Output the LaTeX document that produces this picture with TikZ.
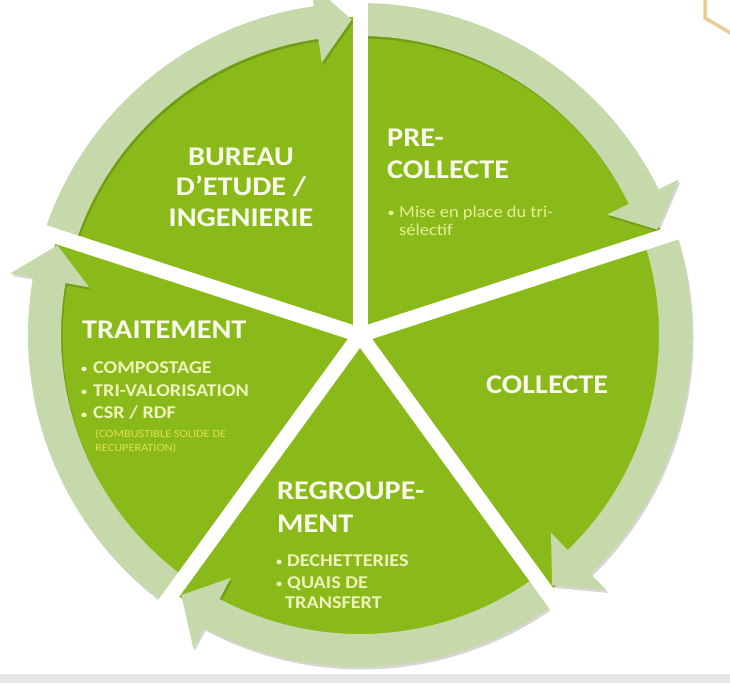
\documentclass[tikz,border=0pt]{standalone}
\usepackage{fontspec}
\setmainfont{Carlito}[FakeStretch=1.12]
\definecolor{leaf}{HTML}{8ABA1A}
\definecolor{bandcol}{HTML}{C6D9AB}
\definecolor{titlecol}{HTML}{FAFAEC}
\definecolor{bulcol}{HTML}{F0F2BC}
\definecolor{smallcol}{HTML}{E8EE96}
\definecolor{notecol}{HTML}{E2E04A}
\definecolor{hexcol}{HTML}{E9CD94}
\definecolor{stripcol}{HTML}{E6E6E6}
\begin{document}
\begin{tikzpicture}[x=1pt,y=1pt,
  titletext/.style={text=titlecol, font=\fontsize{27}{31}\selectfont\bfseries, inner sep=0pt},
  bullettext/.style={text=bulcol, font=\fontsize{18}{22}\selectfont\bfseries, inner sep=0pt, anchor=base west},
  bulletdot/.style={text=bulcol, font=\fontsize{11}{11}\selectfont\bfseries, inner sep=0pt, anchor=base west},
  smalltext/.style={text=smallcol, font=\fontsize{16.5}{20}\selectfont, inner sep=0pt, anchor=base west},
  notetext/.style={text=notecol, font=\fontsize{11}{13}\selectfont, inner sep=0pt, anchor=base west},
  gapline/.style={white, line width=15pt}]
\useasboundingbox (0,0) rectangle (730,683);
\fill[white] (0,0) rectangle (730,683);
\fill[stripcol] (0,0) rectangle (730,9);
\draw[hexcol, line width=3.5pt] (705,686) -- (705,665) -- (734,648);
\begin{scope}[shift={(360,348)}]
  % sectors
  \foreach \a in {162,90,18,-54,-126} {
    \fill[leaf] (0,0) -- (\a:318) arc[start angle=\a, end angle=\a-72, radius=318] -- cycle;
  }
  % ring arrows with soft shadow
  \foreach \a in {162,90,18,-54,-126} {
    \pgfmathsetmacro{\j}{\a-72+8}
    \pgfmathsetmacro{\t}{\a-72+1.5}
    \fill[black, opacity=0.16, shift={(1.5,-2.5)}]
      (\a:332) arc[start angle=\a, end angle=\j, radius=332] -- (\j:355) -- (\t:315.5)
      -- (\j:275) -- (\j:299) arc[start angle=\j, end angle=\a, radius=299] -- cycle;
    \fill[bandcol]
      (\a:332) arc[start angle=\a, end angle=\j, radius=332] -- (\j:355) -- (\t:315.5)
      -- (\j:275) -- (\j:299) arc[start angle=\j, end angle=\a, radius=299] -- cycle;
  }
  % white gaps
  \foreach \a in {162,90,18,-54,-126} {
    \draw[gapline] (0,0) -- (\a:370);
  }
\end{scope}
% BUREAU
\node[titletext, anchor=base] (b1) at (241,517) {BUREAU};
\node[titletext, anchor=base] (b2) at (241,487) {D’ETUDE /};
\node[titletext, anchor=base] (b3) at (241,456) {INGENIERIE};
% PRE-COLLECTE
\node[titletext, anchor=base west] (p1) at (387,536) {PRE-};
\node[titletext, anchor=base west] (p2) at (387,504) {COLLECTE};
\node[bulletdot, text=smallcol] (pb) at (388,466) {\textbullet};
\node[smalltext] (p3) at (399,465) {Mise en place du tri-};
\node[smalltext] (p4) at (399,447) {sélectif};
% COLLECTE
\node[titletext, anchor=base west] (c1) at (486,289) {COLLECTE};
% TRAITEMENT
\node[titletext, anchor=base west] (t1) at (82,344) {TRAITEMENT};
\node[bulletdot] (tb1) at (81,310) {\textbullet};
\node[bullettext] (t2) at (93,309) {COMPOSTAGE};
\node[bulletdot] (tb2) at (81,287) {\textbullet};
\node[bullettext] (t3) at (93,286) {TRI-VALORISATION};
\node[bulletdot] (tb3) at (81,265) {\textbullet};
\node[bullettext] (t4) at (93,264) {CSR / RDF};
\node[notetext] (t5) at (95,246) {(COMBUSTIBLE SOLIDE DE};
\node[notetext] (t6) at (95,232) {RECUPERATION)};
% REGROUPEMENT
\node[titletext, anchor=base west] (r1) at (277,184) {REGROUPE-};
\node[titletext, anchor=base west] (r2) at (277,151) {MENT};
\node[bulletdot] (rb1) at (276,118) {\textbullet};
\node[bullettext] (r3) at (287,117) {DECHETTERIES};
\node[bulletdot] (rb2) at (276,96) {\textbullet};
\node[bullettext] (r4) at (287,95) {QUAIS DE};
\node[bullettext] (r5) at (285,75) {TRANSFERT};
\end{tikzpicture}
\end{document}
